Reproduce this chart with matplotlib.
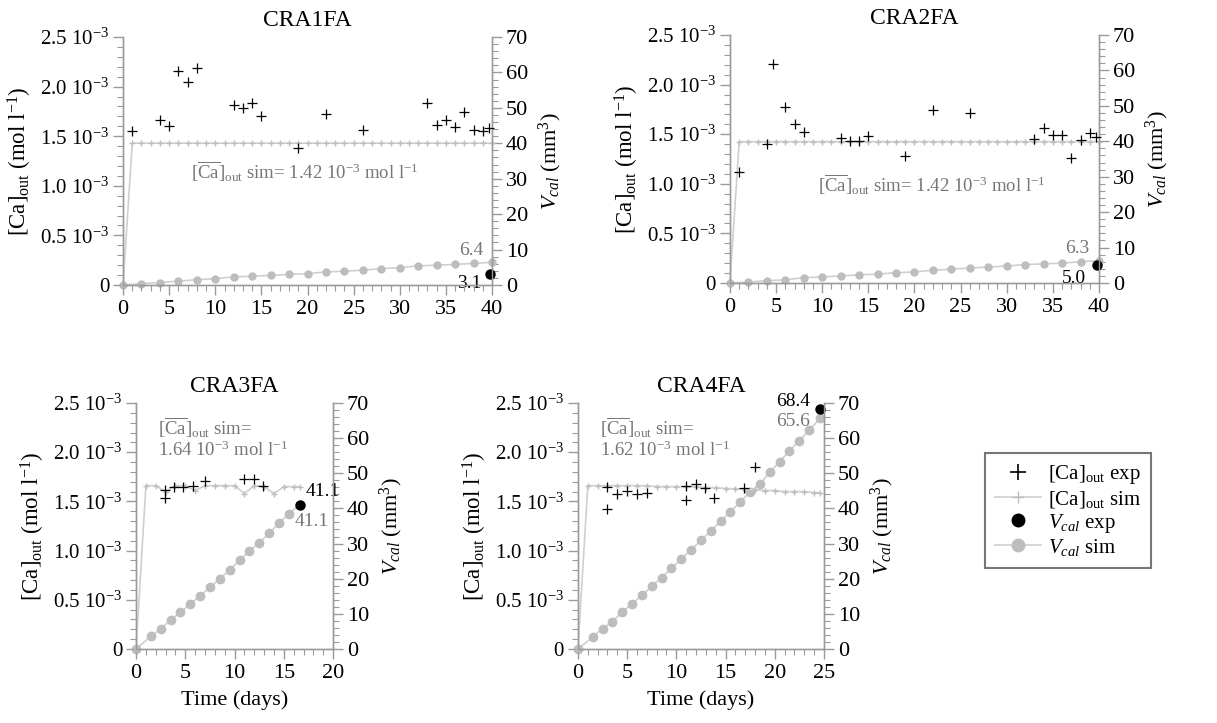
import matplotlib
matplotlib.use("Agg")
import matplotlib.pyplot as plt
from matplotlib.ticker import MultipleLocator, FixedLocator, FixedFormatter
from matplotlib.lines import Line2D

plt.rcParams['font.family'] = ['Liberation Serif', 'DejaVu Serif']
plt.rcParams['mathtext.fontset'] = 'custom'
plt.rcParams['mathtext.rm'] = 'Liberation Serif'
plt.rcParams['mathtext.it'] = 'Liberation Serif:italic'
plt.rcParams['mathtext.bf'] = 'Liberation Serif:bold'

# ---- CRA1FA ----
p1_exp_t = [1, 4, 5, 6, 7, 8, 12, 13, 14, 15, 19, 22, 26, 33, 34, 35, 36, 37, 38, 39, 39.7]
p1_exp_ca = [1.55, 1.66, 1.60, 2.16, 2.05, 2.19, 1.81, 1.78, 1.83, 1.70, 1.38, 1.72, 1.56,
             1.83, 1.61, 1.66, 1.59, 1.74, 1.56, 1.55, 1.585]
p1_sim_t = [0, 1, 2, 3, 4, 5, 6, 7, 8, 9, 10, 11, 12, 13, 14, 15, 16, 17, 18, 19, 20,
            21, 22, 23, 24, 25, 26, 27, 28, 29, 30, 31, 32, 33, 34, 35, 36, 37, 38, 39, 40]
p1_sim_ca = [0.0, 1.43, 1.43, 1.43, 1.43, 1.43, 1.43, 1.43, 1.43, 1.43, 1.43,
             1.43, 1.43, 1.43, 1.43, 1.43, 1.43, 1.43, 1.43, 1.43, 1.43,
             1.43, 1.43, 1.43, 1.43, 1.43, 1.43, 1.43, 1.43, 1.43, 1.43,
             1.43, 1.43, 1.43, 1.43, 1.43, 1.43, 1.43, 1.43, 1.43, 1.43]
p1_vsim_t = [0, 2, 4, 6, 8, 10, 12, 14, 16, 18, 20, 22, 24, 26, 28, 30, 32, 34, 36, 38, 40]
p1_vsim = [0, 0.4, 0.7, 1.1, 1.5, 1.8, 2.3, 2.5, 2.7, 3.0, 3.2, 3.7, 3.9, 4.2, 4.6,
           4.9, 5.4, 5.6, 5.8, 6.1, 6.4]
p1_vexp_t = [39.8]
p1_vexp = [3.1]

# ---- CRA2FA ----
p2_exp_t = [1, 4, 4.7, 6, 7, 8, 12, 13, 14, 15, 19, 22, 26, 33, 34, 35, 36, 37, 38, 39, 39.7]
p2_exp_ca = [1.12, 1.40, 2.21, 1.77, 1.60, 1.52, 1.46, 1.43, 1.43, 1.48, 1.28, 1.74, 1.71,
             1.45, 1.56, 1.49, 1.49, 1.26, 1.44, 1.51, 1.47]
p2_sim_t = p1_sim_t
p2_sim_ca = [0.0, 1.425, 1.425, 1.425, 1.425, 1.425, 1.425, 1.425, 1.425, 1.425, 1.425,
             1.425, 1.425, 1.425, 1.425, 1.425, 1.425, 1.425, 1.425, 1.425, 1.425,
             1.425, 1.425, 1.425, 1.425, 1.425, 1.425, 1.425, 1.425, 1.425, 1.425,
             1.425, 1.425, 1.425, 1.425, 1.425, 1.425, 1.425, 1.425, 1.425, 1.425]
p2_vsim_t = p1_vsim_t
p2_vsim = [0, 0.3, 0.6, 0.9, 1.5, 1.7, 2.0, 2.3, 2.5, 2.9, 3.1, 3.6, 3.9, 4.2, 4.5,
           4.8, 5.2, 5.4, 5.6, 6.0, 6.3]
p2_vexp_t = [39.75]
p2_vexp = [5.0]

# ---- CRA3FA ----
p3_exp_t = [2.9, 2.9, 3.9, 4.8, 5.8, 7.0, 11.0, 12.0, 12.9]
p3_exp_ca = [1.62, 1.53, 1.65, 1.65, 1.66, 1.71, 1.73, 1.73, 1.66]
p3_sim_t = [0, 1, 2, 3, 4, 5, 6, 7, 8, 9, 10, 11, 12, 13, 14, 15, 16, 16.6]
p3_sim_ca = [0.0, 1.66, 1.66, 1.60, 1.66, 1.66, 1.61, 1.66, 1.66, 1.66, 1.66, 1.58,
             1.66, 1.65, 1.58, 1.65, 1.65, 1.65]
p3_vsim_t = [0, 1.5, 2.5, 3.5, 4.5, 5.5, 6.5, 7.5, 8.5, 9.5, 10.5, 11.5, 12.5, 13.5,
             14.5, 15.5, 16.6]
p3_vsim = [0, 3.6, 5.6, 8.3, 10.4, 12.8, 15.1, 17.5, 20.0, 22.5, 25.2, 27.9, 30.2,
           32.9, 35.8, 38.4, 41.1]
p3_vexp_t = [16.6]
p3_vexp = [41.1]

# ---- CRA4FA ----
p4_exp_t = [3.0, 3.0, 4.0, 5.0, 6.0, 7.0, 11.0, 11.0, 12.0, 12.9, 13.8, 16.9, 18.0]
p4_exp_ca = [1.65, 1.42, 1.57, 1.61, 1.57, 1.59, 1.66, 1.51, 1.68, 1.64, 1.53, 1.64, 1.85]
p4_sim_t = [0, 1, 2, 3, 4, 5, 6, 7, 8, 9, 10, 11, 12, 13, 14, 15, 16, 17, 18, 19, 20,
            21, 22, 23, 24, 24.6]
p4_sim_ca = [0.0, 1.66, 1.66, 1.66, 1.66, 1.66, 1.66, 1.66, 1.65, 1.65, 1.65, 1.65,
             1.65, 1.64, 1.64, 1.63, 1.63, 1.62, 1.62, 1.61, 1.61, 1.60, 1.60, 1.60,
             1.59, 1.59]
p4_vsim_t = [0, 1.5, 2.5, 3.5, 4.5, 5.5, 6.5, 7.5, 8.5, 9.5, 10.5, 11.5, 12.5, 13.5,
             14.5, 15.5, 16.5, 17.5, 18.5, 19.5, 20.5, 21.5, 22.5, 23.5, 24.6]
p4_vsim = [0, 3.4, 5.8, 7.8, 10.5, 12.8, 15.3, 17.8, 20.3, 22.9, 25.7, 28.2, 30.9,
           33.6, 36.3, 39.1, 41.8, 44.8, 47.0, 50.3, 53.3, 56.4, 59.3, 62.2, 65.6]
p4_vexp_t = [24.6]
p4_vexp = [68.4]

ca_ticks = [0, 0.5, 1.0, 1.5, 2.0, 2.5]
ca_ticklabels = ['0', '0.5 10$^{-3}$', '1.0 10$^{-3}$', '1.5 10$^{-3}$',
                 '2.0 10$^{-3}$', '2.5 10$^{-3}$']

SPINE = '#9a9a9a'
SIM_LINE = '#cfcfcf'
SIM_MARK = '#bdbdbd'
NOTE = '#767676'
FS = 16

fig = plt.figure(figsize=(12.17, 7.23), dpi=100)


def panel(rect, title, xmax, xstep, exp_t, exp_ca, sim_t, sim_ca,
          vsim_t, vsim, vexp_t, vexp, vms, xlabel=False):
    ax = fig.add_axes(rect)
    ax2 = ax.twinx()
    ax.set_zorder(ax2.get_zorder() + 1)
    ax.patch.set_visible(False)

    ax.plot(sim_t, sim_ca, color=SIM_LINE, lw=1.2, marker='+', ms=5,
            mec=SIM_MARK, mew=1.0, clip_on=False, zorder=2)
    ax.plot(exp_t, exp_ca, ls='none', marker='+', ms=7, color='black',
            mew=0.9, clip_on=False, zorder=4)
    ax2.plot(vsim_t, vsim, color=SIM_LINE, lw=1.2, marker='o', ms=vms,
             mfc=SIM_MARK, mec=SIM_MARK, clip_on=False, zorder=2)
    ax2.plot(vexp_t, vexp, ls='none', marker='o', ms=6.5, color='black',
             clip_on=False, zorder=5)

    ax.set_xlim(0, xmax)
    ax.set_ylim(0, 2.5)
    ax2.set_ylim(0, 70)

    ax.xaxis.set_major_locator(MultipleLocator(xstep))
    ax.xaxis.set_minor_locator(MultipleLocator(1))
    ax.yaxis.set_major_locator(FixedLocator(ca_ticks))
    ax.yaxis.set_major_formatter(FixedFormatter(ca_ticklabels))
    ax.yaxis.set_minor_locator(MultipleLocator(0.1))
    ax2.yaxis.set_major_locator(MultipleLocator(10))
    ax2.yaxis.set_minor_locator(MultipleLocator(2))

    for a in (ax, ax2):
        a.spines['top'].set_visible(False)
        for s in ('left', 'right', 'bottom'):
            a.spines[s].set_color(SPINE)
            a.spines[s].set_linewidth(1.0)
        a.tick_params(which='major', length=7, width=1.0, color=SPINE,
                      labelsize=FS, direction='out', pad=3)
        a.tick_params(which='minor', length=4, width=0.8, color=SPINE,
                      direction='out')
    ax.tick_params(axis='y', labelsize=15)
    ax.tick_params(axis='x', pad=4)

    ax.set_title(title, fontsize=17, pad=8)
    ax.set_ylabel('[Ca]$_{\\mathrm{out}}$ (mol l$^{-1}$)', fontsize=16.5, labelpad=4)
    ax2.set_ylabel('$V_{cal}$ (mm$^{3}$)', fontsize=16, labelpad=6)
    if xlabel:
        ax.set_xlabel('Time (days)', fontsize=16, labelpad=5)
    return ax, ax2


note_single = ('$[\\overline{\\mathrm{Ca}}]_{\\mathrm{out}}$ sim= '
               '%s 10$^{-3}$ mol l$^{-1}$')
note_double = ('$[\\overline{\\mathrm{Ca}}]_{\\mathrm{out}}$ sim=\n'
               '%s 10$^{-3}$ mol l$^{-1}$')

ax, ax2 = panel([0.1011, 0.6058, 0.3032, 0.343], 'CRA1FA', 40, 5,
                p1_exp_t, p1_exp_ca, p1_sim_t, p1_sim_ca,
                p1_vsim_t, p1_vsim, p1_vexp_t, p1_vexp, 5)
ax.text(19.7, 1.14, note_single % '1.42', color=NOTE, fontsize=13.5,
        ha='center', va='center')
ax2.text(p1_vsim_t[-1] - 0.9, p1_vsim[-1] + 1.0, '%.1f' % p1_vsim[-1],
         color=NOTE, fontsize=14, ha='right', va='bottom')
ax2.text(p1_vexp_t[0] - 1.0, p1_vexp[0] - 0.4, '%.1f' % p1_vexp[0],
         color='black', fontsize=14, ha='right', va='top')

ax, ax2 = panel([0.5998, 0.6086, 0.3032, 0.343], 'CRA2FA', 40, 5,
                p2_exp_t, p2_exp_ca, p2_sim_t, p2_sim_ca,
                p2_vsim_t, p2_vsim, p2_vexp_t, p2_vexp, 5)
ax.text(21.9, 0.99, note_single % '1.42', color=NOTE, fontsize=13.5,
        ha='center', va='center')
ax2.text(p2_vsim_t[-1] - 1.0, p2_vsim[-1] + 1.0, '%.1f' % p2_vsim[-1],
         color=NOTE, fontsize=14, ha='right', va='bottom')
ax2.text(p2_vexp_t[0] - 1.2, p2_vexp[0] - 1.3, '%.1f' % p2_vexp[0],
         color='black', fontsize=14, ha='right', va='top')

ax, ax2 = panel([0.1118, 0.1024, 0.1619, 0.3402], 'CRA3FA', 20, 5,
                p3_exp_t, p3_exp_ca, p3_sim_t, p3_sim_ca,
                p3_vsim_t, p3_vsim, p3_vexp_t, p3_vexp, 6, xlabel=True)
ax.text(2.2, 2.37, note_double % '1.64', color=NOTE, fontsize=13.5,
        ha='left', va='top', linespacing=1.0)
ax2.text(p3_vexp_t[0] + 0.6, p3_vexp[0] + 1.2, '%.1f' % p3_vexp[0],
         color='black', fontsize=14, ha='left', va='bottom')
ax2.text(p3_vsim_t[-1] - 0.5, p3_vsim[-1] - 2.5, '%.1f' % p3_vsim[-1],
         color=NOTE, fontsize=14, ha='left', va='top')

ax, ax2 = panel([0.4749, 0.1024, 0.2021, 0.3402], 'CRA4FA', 25, 5,
                p4_exp_t, p4_exp_ca, p4_sim_t, p4_sim_ca,
                p4_vsim_t, p4_vsim, p4_vexp_t, p4_vexp, 6, xlabel=True)
ax.text(2.2, 2.37, note_double % '1.62', color=NOTE, fontsize=13.5,
        ha='left', va='top', linespacing=1.0)
ax2.text(p4_vexp_t[0] - 1.0, p4_vexp[0] - 0.5, '%.1f' % p4_vexp[0],
         color='black', fontsize=14, ha='right', va='bottom')
ax2.text(p4_vsim_t[-1] - 1.0, p4_vsim[-1] + 1.5, '%.1f' % p4_vsim[-1],
         color=NOTE, fontsize=14, ha='right', va='top')

handles = [
    Line2D([], [], ls='none', marker='+', ms=11, color='black', mew=1.2),
    Line2D([], [], color=SIM_LINE, lw=1.2, marker='+', ms=9, mec=SIM_MARK, mew=1.0),
    Line2D([], [], ls='none', marker='o', ms=9, color='black'),
    Line2D([], [], color=SIM_LINE, lw=1.2, marker='o', ms=9, mfc=SIM_MARK, mec=SIM_MARK),
]
labels = ['[Ca]$_{\\mathrm{out}}$ exp', '[Ca]$_{\\mathrm{out}}$ sim',
          '$V_{cal}$ exp', '$V_{cal}$ sim']
leg = fig.legend(handles, labels, loc='upper left',
                 bbox_to_anchor=(985 / 1217, 1 - 453 / 723),
                 frameon=True, fancybox=False, fontsize=15,
                 handlelength=2.2, handletextpad=0.3, labelspacing=0.1,
                 borderpad=0.5, borderaxespad=0.0)
leg.get_frame().set_edgecolor('#555555')
leg.get_frame().set_linewidth(1.5)

fig.savefig('out.png', dpi=100)
